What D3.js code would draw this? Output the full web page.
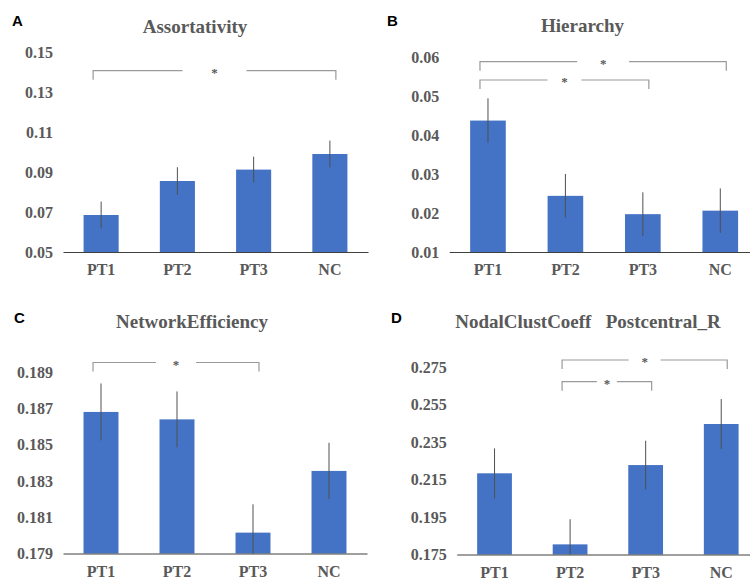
<!DOCTYPE html>
<html>
<head>
<meta charset="utf-8">
<script src="https://cdn.jsdelivr.net/npm/d3@7/dist/d3.min.js"></script>
<style>
  body { margin: 0; background: #fff; }
  svg { display: block; }
  .serif { font-family: "Liberation Serif", "DejaVu Serif", "Noto Serif", "Nimbus Roman", "FreeSerif", Times, "Times New Roman", serif; font-weight: bold; }
  .sans { font-family: "Liberation Sans", Arial, sans-serif; font-weight: bold; }
</style>
</head>
<body>
<svg id="chart" width="750" height="583"></svg>
<script>
// ---------- data ----------
const groups = ["PT1", "PT2", "PT3", "NC"];

const assortativity      = [0.0685, 0.0855, 0.0912, 0.0990];
const assortativityErr   = [0.0067, 0.0069, 0.0065, 0.0067];
const hierarchy          = [0.0437, 0.0244, 0.0197, 0.0206];
const hierarchyErr       = [0.0057, 0.0056, 0.0056, 0.0057];
const networkEfficiency  = [0.18680, 0.18639, 0.18015, 0.18355];
const networkEffErr      = [0.00157, 0.00154, 0.00156, 0.00155];
const nodalClustCoeff    = [0.2183, 0.1804, 0.2227, 0.2446];
const nodalClustErr      = [0.0133, 0.0134, 0.0130, 0.0133];

const ticksA = [0.05, 0.07, 0.09, 0.11, 0.13, 0.15];
const ticksB = [0.01, 0.02, 0.03, 0.04, 0.05, 0.06];
const ticksC = [0.179, 0.181, 0.183, 0.185, 0.187, 0.189];
const ticksD = [0.175, 0.195, 0.215, 0.235, 0.255, 0.275];

const titles = ["Assortativity", "Hierarchy", "NetworkEfficiency", "NodalClustCoeff\u00a0\u00a0\u00a0Postcentral_R"];
const letters = ["A", "B", "C", "D"];

// significance brackets: [from, to]
const sigA = [["PT1", "NC"]];
const sigB = [["PT1", "NC"], ["PT1", "PT3"]];
const sigC = [["PT1", "PT3"]];
const sigD = [["PT2", "NC"], ["PT2", "PT3"]];

// ---------- layout ----------
const panels = [
  { values: assortativity, errs: assortativityErr, ticks: ticksA, sig: sigA, fmt: ".2f",
    x0: 63, x1: 368, yBase: 252, yTop: 52, titleX: 195, titleY: 33, letterX: 12, letterY: 26,
    brY: [70.7], brGap: [32] },
  { values: hierarchy, errs: hierarchyErr, ticks: ticksB, sig: sigB, fmt: ".2f",
    x0: 449.25, x1: 759, yBase: 252, yTop: 57, titleX: 582.5, titleY: 32, letterX: 387, letterY: 26,
    brY: [61.7, 80], brGap: [26, 17] },
  { values: networkEfficiency, errs: networkEffErr, ticks: ticksC, sig: sigC, fmt: ".3f",
    x0: 63, x1: 367, yBase: 553.5, yTop: 372, titleX: 192, titleY: 328, letterX: 14, letterY: 323,
    brY: [362.5], brGap: [20] },
  { values: nodalClustCoeff, errs: nodalClustErr, ticks: ticksD, sig: sigD, fmt: ".3f",
    x0: 456.75, x1: 759, yBase: 554.5, yTop: 367, titleX: 588, titleY: 328, letterX: 391, letterY: 323,
    brY: [360, 381.7], brGap: [16, 10] }
];

const textGray = "#595959";
const barColor = "#4472C4";

const svg = d3.select("#chart");

panels.forEach((p, i) => {
  const g = svg.append("g");
  const x = d3.scaleBand().domain(groups).range([p.x0, p.x1]).paddingInner(0.54).paddingOuter(0.27);
  const y = d3.scaleLinear().domain([p.ticks[0], p.ticks[p.ticks.length - 1]]).range([p.yBase, p.yTop]);

  // bars
  g.selectAll("rect.bar").data(groups).join("rect")
    .attr("class", "bar")
    .attr("x", d => x(d))
    .attr("width", x.bandwidth())
    .attr("y", (d, j) => y(p.values[j]))
    .attr("height", (d, j) => y(p.ticks[0]) - y(p.values[j]))
    .attr("fill", barColor);

  // error bars
  g.selectAll("line.err").data(groups).join("line")
    .attr("class", "err")
    .attr("x1", d => x(d) + x.bandwidth() / 2)
    .attr("x2", d => x(d) + x.bandwidth() / 2)
    .attr("y1", (d, j) => Math.min(y(p.ticks[0]), y(p.values[j] - p.errs[j])))
    .attr("y2", (d, j) => y(p.values[j] + p.errs[j]))
    .attr("stroke", "#505050")
    .attr("stroke-width", 1);

  // y axis (labels only)
  const yAxis = d3.axisLeft(y).tickValues(p.ticks).tickFormat(d3.format(p.fmt)).tickSize(0).tickPadding(10);
  const ya = g.append("g").attr("transform", `translate(${p.x0},0)`).call(yAxis)
    .attr("font-family", null).attr("font-size", null);
  ya.select(".domain").remove();
  ya.selectAll("text").attr("class", "serif")
    .style("font-size", "16px").attr("fill", textGray);

  // x axis
  const xAxis = d3.axisBottom(x).tickSize(0).tickPadding(12);
  const xa = g.append("g").attr("transform", `translate(0,${p.yBase})`).call(xAxis)
    .attr("font-family", null).attr("font-size", null);
  xa.select(".domain").attr("stroke", "#404040").attr("stroke-width", 1.2);
  xa.selectAll("text").attr("class", "serif")
    .style("font-size", "16px").attr("fill", textGray);

  // title
  g.append("text").attr("class", "serif").attr("x", p.titleX).attr("y", p.titleY)
    .attr("text-anchor", "middle").style("font-size", "19px")
    .attr("fill", textGray).text(titles[i]);

  // panel letter
  g.append("text").attr("class", "sans").attr("x", p.letterX).attr("y", p.letterY)
    .style("font-size", "15px").attr("fill", "#000").text(letters[i]);

  // significance brackets
  p.sig.forEach((s, k) => {
    const xl = x(s[0]) + x.bandwidth() / 2 - 8;
    const xr = x(s[1]) + x.bandwidth() / 2 + 6;
    const yy = p.brY[k];
    const mid = (xl + xr) / 2;
    const gap = p.brGap[k];
    const path = d3.path();
    path.moveTo(xl, yy + 9); path.lineTo(xl, yy); path.lineTo(mid - gap, yy);
    path.moveTo(mid + gap, yy); path.lineTo(xr, yy); path.lineTo(xr, yy + 9);
    g.append("path").attr("d", path.toString())
      .attr("fill", "none").attr("stroke", "#9a9a9a").attr("stroke-width", 1.2);
    g.append("text").attr("class", "serif").attr("x", mid).attr("y", yy + 6)
      .attr("text-anchor", "middle").style("font-size", "13px")
      .attr("fill", textGray).text("*");
  });
});
</script>
</body>
</html>
